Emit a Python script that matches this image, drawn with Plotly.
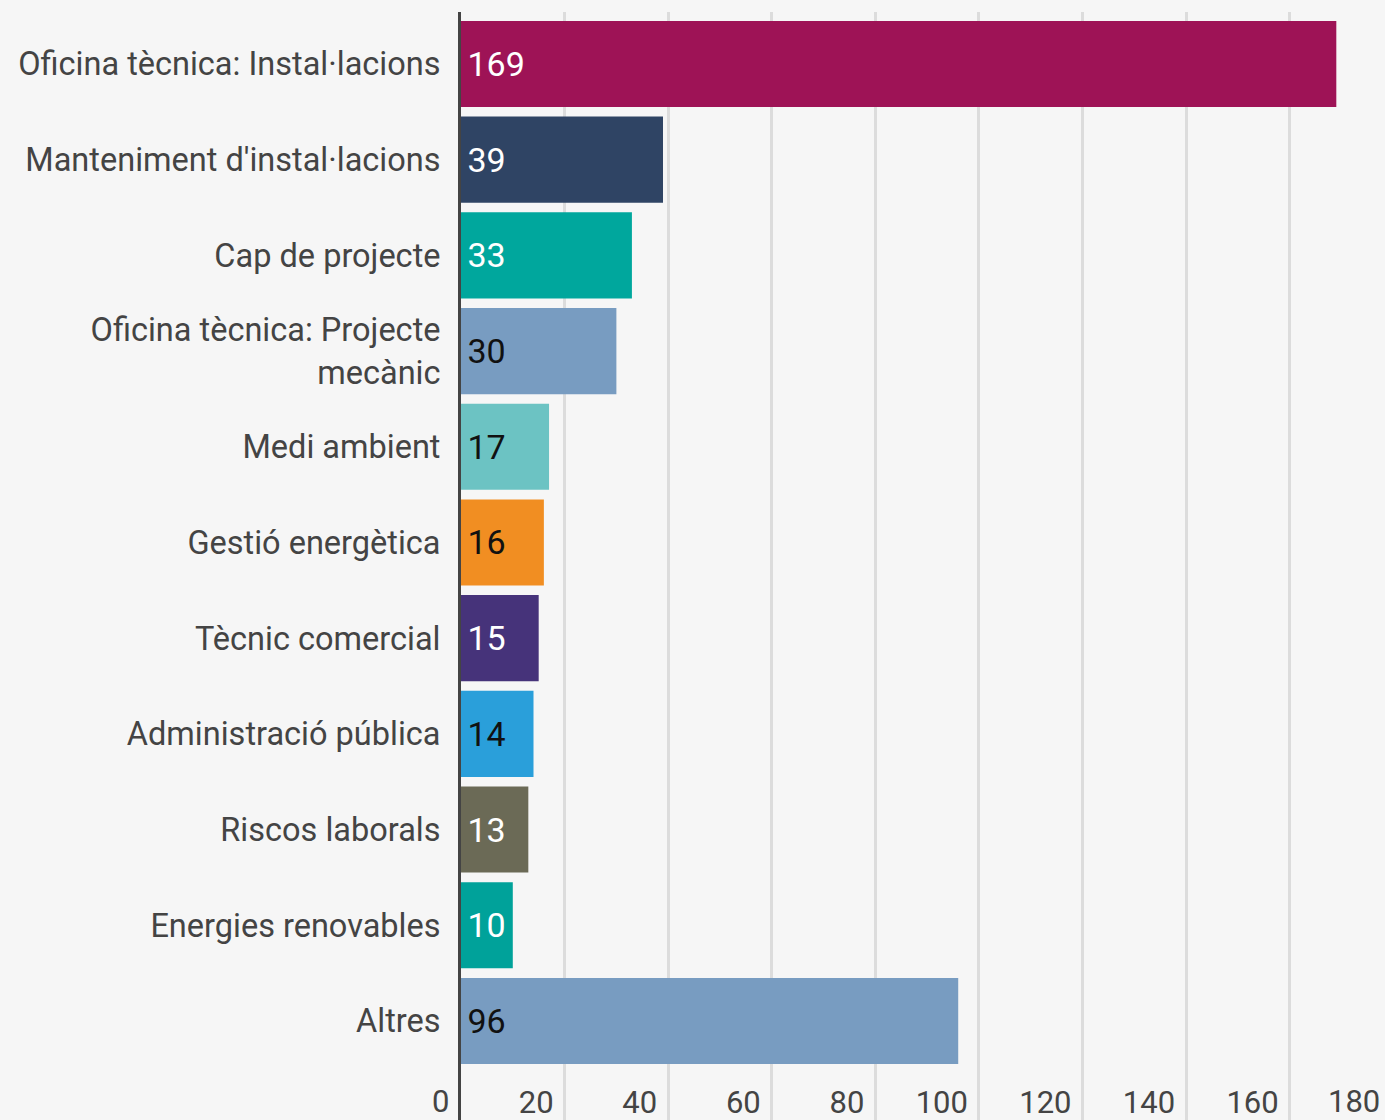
import plotly.graph_objects as go

categories = [
    "Oficina tècnica: Instal·lacions",
    "Manteniment d'instal·lacions",
    "Cap de projecte",
    "Oficina tècnica: Projecte<br>mecànic",
    "Medi ambient",
    "Gestió energètica",
    "Tècnic comercial",
    "Administració pública",
    "Riscos laborals",
    "Energies renovables",
    "Altres",
]
values = [169, 39, 33, 30, 17, 16, 15, 14, 13, 10, 96]
bar_colors = ["#9e1356", "#2f4464", "#00a79d", "#789cc1", "#6cc3c3", "#f18e22",
              "#46337a", "#2a9fda", "#6b6a56", "#00a29a", "#789cc1"]
text_colors = ["white", "white", "white", "#111111", "#111111", "#111111",
               "white", "#111111", "white", "white", "#111111"]
tick_values = [20, 40, 60, 80, 100, 120, 140, 160]
tick_labels = ["20", "40", "60", "80", "100", "120", "140", "160"]
first_tick_label = "0"
last_tick_label = "180"

fig = go.Figure(go.Bar(
    y=categories,
    x=values,
    orientation="h",
    width=0.9,
    marker=dict(color=bar_colors, line=dict(width=0)),
    texttemplate="\u200a%{x}",
    textposition="inside",
    insidetextanchor="start",
    constraintext="none",
    textfont=dict(family="Roboto", size=34, color=text_colors),
    hoverinfo="x+y",
))

fig.update_layout(
    width=1385, height=1120,
    margin=dict(l=461, r=0, t=12, b=0),
    paper_bgcolor="#f6f6f6",
    plot_bgcolor="rgba(0,0,0,0)",
    font=dict(family="Roboto", color="#444444"),
    showlegend=False,
    bargap=0.1,
)

fig.update_xaxes(
    range=[0, 178.4],
    tickvals=tick_values,
    ticktext=tick_labels,
    ticklabelposition="inside left",
    ticklabelshift=-11,
    ticklabelstandoff=-5,
    tickfont=dict(family="Roboto", size=31, color="#444444"),
    showgrid=True, gridcolor="#dcdcdc", gridwidth=3,
    zeroline=False, showline=False, ticks="",
)

fig.update_yaxes(
    categoryorder="array", categoryarray=categories,
    range=[11.035, -0.543],
    tickfont=dict(family="Roboto", size=32.5, color="#444444"),
    ticks="outside", ticklen=11, tickcolor="rgba(0,0,0,0)",
    showline=True, linecolor="#444444", linewidth=3,
    showgrid=False, zeroline=False,
)

fig.add_annotation(
    xref="paper", yref="paper", x=0, y=0,
    xanchor="right", yanchor="bottom", xshift=-10, yshift=-2,
    text=first_tick_label, showarrow=False,
    font=dict(family="Roboto", size=31, color="#444444"),
)
fig.add_annotation(
    xref="paper", yref="paper", x=1, y=0,
    xanchor="right", yanchor="bottom", xshift=-3, yshift=-2,
    text=last_tick_label, showarrow=False,
    font=dict(family="Roboto", size=31, color="#444444"),
)

fig.write_html(
    "out.html",
    config={"displayModeBar": False},
    post_script="document.body.style.margin='0px';document.body.style.overflow='hidden';",
)
